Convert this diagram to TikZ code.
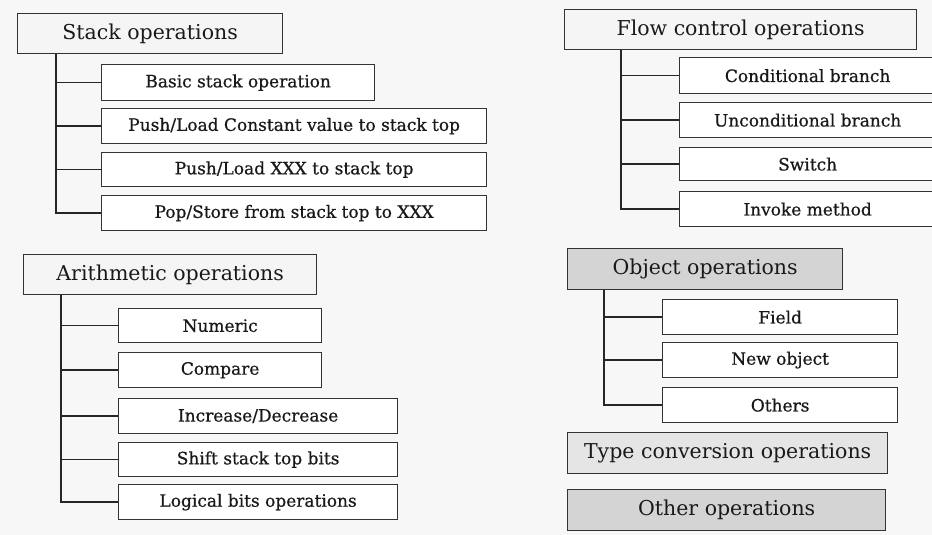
\documentclass[tikz,border=0pt]{standalone}
\usepackage{fontspec}
\setmainfont{DejaVu Serif}
\newfontfamily\subfont[FakeBold=0.6]{DejaVu Serif}
\begin{document}
\begin{tikzpicture}[x=1pt,y=-1pt,
  bx/.style={draw=black!80,line width=1.3pt,inner sep=0pt,anchor=north west,text=black!90},
  topbox/.style={bx,fill=black!4,font=\fontsize{20.5}{22}\selectfont},
  subbox/.style={bx,fill=white,font=\subfont\fontsize{17}{19}\selectfont},
  graybox/.style={topbox,fill=black!17},
  lgraybox/.style={topbox,fill=black!10},
  conn/.style={draw=black!85,line width=1.4pt}]
\fill[black!3] (0,0) rectangle (932,535);
\clip (0,0) rectangle (932,535);
\useasboundingbox (0,0) rectangle (932,535);
\newcommand{\bxat}[7]{\node[#1,minimum width=#5-#3,minimum height=#6-#4] (#2) at (#3,#4) {#7};}
% Stack operations
\bxat{topbox}{stack}{17}{13}{282}{53}{Stack operations}
\bxat{subbox}{basic}{101}{64}{374}{100}{Basic stack operation}
\bxat{subbox}{pushc}{101}{108}{486}{143}{Push/Load Constant value to stack top}
\bxat{subbox}{pushx}{101}{152}{486}{186}{Push/Load XXX to stack top}
\bxat{subbox}{pop}{101}{195}{486}{230}{Pop/Store from stack top to XXX}
\coordinate (sv) at (56,0);
\draw[conn] (sv |- stack.south) |- (pop.west);
\draw[conn] (sv |- basic.west) -- (basic.west);
\draw[conn] (sv |- pushc.west) -- (pushc.west);
\draw[conn] (sv |- pushx.west) -- (pushx.west);
% Arithmetic operations
\bxat{topbox}{arith}{23}{254}{316}{294}{Arithmetic operations}
\bxat{subbox}{num}{118}{308}{321}{342}{Numeric}
\bxat{subbox}{cmp}{118}{352}{321}{387}{Compare}
\bxat{subbox}{inc}{118}{398}{397}{433}{Increase/Decrease}
\bxat{subbox}{shf}{118}{442}{397}{476}{Shift stack top bits}
\bxat{subbox}{lgc}{118}{484}{397}{519}{Logical bits operations}
\coordinate (av) at (61,0);
\draw[conn] (av |- arith.south) |- (lgc.west);
\draw[conn] (av |- num.west) -- (num.west);
\draw[conn] (av |- cmp.west) -- (cmp.west);
\draw[conn] (av |- inc.west) -- (inc.west);
\draw[conn] (av |- shf.west) -- (shf.west);
% Flow control operations
\bxat{topbox}{flow}{564}{9}{916}{49}{Flow control operations}
\bxat{subbox}{cond}{679}{57}{935}{93}{Conditional branch}
\bxat{subbox}{ucond}{679}{102}{935}{137}{Unconditional branch}
\bxat{subbox}{sw}{679}{147}{935}{180}{Switch}
\bxat{subbox}{inv}{679}{191}{935}{226}{Invoke method}
\coordinate (fv) at (621,0);
\draw[conn] (fv |- flow.south) |- (inv.west);
\draw[conn] (fv |- cond.west) -- (cond.west);
\draw[conn] (fv |- ucond.west) -- (ucond.west);
\draw[conn] (fv |- sw.west) -- (sw.west);
% Object operations
\bxat{graybox}{obj}{567}{248}{842}{289}{Object operations}
\bxat{subbox}{fld}{662}{299}{897}{334}{Field}
\bxat{subbox}{nobj}{662}{342}{897}{377}{New object}
\bxat{subbox}{oth}{662}{387}{897}{422}{Others}
\coordinate (ov) at (604,0);
\draw[conn] (ov |- obj.south) |- (oth.west);
\draw[conn] (ov |- fld.west) -- (fld.west);
\draw[conn] (ov |- nobj.west) -- (nobj.west);
% Others
\bxat{lgraybox}{typ}{567}{432}{887}{473}{Type conversion operations}
\bxat{graybox}{othops}{567}{489}{885}{530}{Other operations}
\end{tikzpicture}
\end{document}
